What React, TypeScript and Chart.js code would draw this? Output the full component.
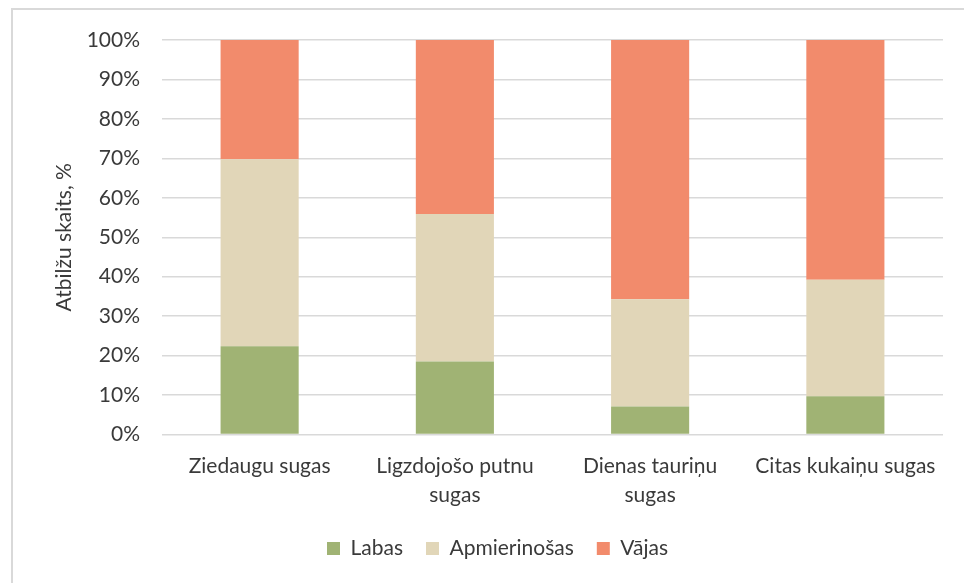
import React, { useEffect, useRef } from "react";
import { Chart, registerables } from "chart.js";

Chart.register(...registerables);

const categories: string[][] = [
  ["Ziedaugu sugas"],
  ["Ligzdojošo putnu", "sugas"],
  ["Dienas tauriņu", "sugas"],
  ["Citas kukaiņu sugas"],
];
const seriesNames = ["Labas", "Apmierinošas", "Vājas"];
const labas = [22.4, 18.5, 7.1, 9.7];
const apmierinosas = [47.4, 37.4, 27.2, 29.5];
const vajas = [30.2, 44.1, 65.7, 60.8];
const yTickStep = 10;
const yMin = 0;
const yMax = 100;
const yTitle = "Atbilžu skaits, %";

const FONT = "Lato, 'Noto Sans', sans-serif";
const TEXT = "#3a3a3a";
const FS = 21;
const PAD_LEFT = 52;

export default function App() {
  const ref = useRef<HTMLCanvasElement | null>(null);

  useEffect(() => {
    if (!ref.current) return;
    const chart = new Chart(ref.current, {
      type: "bar",
      data: {
        labels: categories,
        datasets: [
          { label: seriesNames[0], data: labas, backgroundColor: "#a0b374", borderWidth: 0 },
          { label: seriesNames[1], data: apmierinosas, backgroundColor: "#e1d6b8", borderWidth: 0 },
          { label: seriesNames[2], data: vajas, backgroundColor: "#f28b6c", borderWidth: 0 },
        ],
      },
      options: {
        responsive: false,
        animation: false,
        events: [],
        layout: { padding: { left: PAD_LEFT, right: 21, top: 40, bottom: 0 } },
        datasets: { bar: { categoryPercentage: 1, barPercentage: 0.4 } },
        plugins: {
          tooltip: { enabled: false },
          legend: {
            position: "bottom",
            labels: {
              boxWidth: 13,
              boxHeight: 13,
              padding: 23,
              color: TEXT,
              font: { family: FONT, size: FS },
            },
          },
        },
        scales: {
          x: {
            stacked: true,
            grid: { display: false },
            border: { display: false },
            ticks: {
              color: TEXT,
              font: { family: FONT, size: FS, lineHeight: 1.4 },
              padding: 9,
              maxRotation: 0,
              autoSkip: false,
            },
            afterFit: (s: any) => {
              s.height = 80.5;
            },
          },
          y: {
            stacked: true,
            min: yMin,
            max: yMax,
            grid: { color: "#d9d9d9", lineWidth: 1.5, drawTicks: false },
            border: { display: false },
            ticks: {
              stepSize: yTickStep,
              color: TEXT,
              font: { family: FONT, size: FS },
              padding: 22,
              callback: (v: any) => v + "%",
            },
            title: {
              display: true,
              text: yTitle,
              color: TEXT,
              font: { family: FONT, size: FS },
              padding: { top: 0, bottom: 0 },
            },
            afterFit: (s: any) => {
              s.width = 162 - PAD_LEFT;
            },
          },
        },
      },
    });
    return () => chart.destroy();
  }, []);

  return (
    <div
      style={{
        position: "fixed",
        left: 0,
        top: 0,
        width: 964,
        height: 583,
        overflow: "hidden",
        background: "#ffffff",
      }}
    >
      <div
        style={{
          position: "absolute",
          left: 11,
          top: 8,
          width: 1000,
          height: 1000,
          border: "2px solid #d9d9d9",
          boxSizing: "border-box",
        }}
      />
      <canvas
        ref={ref}
        width={964}
        height={569}
        style={{ position: "absolute", left: 0, top: 0, width: 964, height: 569 }}
      />
    </div>
  );
}
